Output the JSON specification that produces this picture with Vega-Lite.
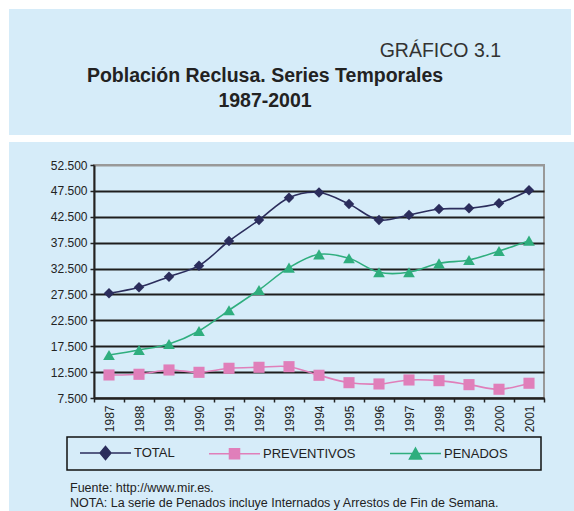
{
  "$schema": "https://vega.github.io/schema/vega-lite/v6.json",
  "background": "#d6ecf9",
  "padding": 0,
  "autosize": {"type": "pad"},
  "spacing": 0,
  "config": {
    "font": "Liberation Sans",
    "view": {"stroke": null},
    "legend": {"strokeWidth": 1.5},
    "axis": {"labelFont": "Liberation Sans", "labelColor": "#222222", "tickColor": "#222222", "domainColor": "#222222"}
  },
  "hconcat": [
    {
      "width": 9, "height": 511,
      "view": {"fill": "white"},
      "data": {"values": []},
      "mark": "point"
    },
    {
      "spacing": 16,
      "vconcat": [
        {
          "spacing": 0,
          "vconcat": [
            {"width": 565, "height": 9, "view": {"fill": "white"}, "data": {"values": []}, "mark": "point"},
            {
              "spacing": 0,
              "hconcat": [
                {
                  "width": 562,
                  "height": 126,
                  "view": {"fill": "#d6ecf9"},
                  "data": {"values": [{"label": "GRÁFICO 3.1", "titulo": "Población Reclusa. Series Temporales\n1987-2001"}]},
                  "layer": [
                    {
                      "mark": {"type": "text", "align": "right", "baseline": "alphabetic", "fontSize": 19.5, "color": "#333333", "dx": 211, "dy": -15},
                      "encoding": {"text": {"field": "label"}}
                    },
                    {
                      "mark": {"type": "text", "align": "center", "baseline": "alphabetic", "fontSize": 19.5, "fontWeight": "bold", "color": "#222222", "lineBreak": "\n", "lineHeight": 25, "dx": -25, "dy": 10},
                      "encoding": {"text": {"field": "titulo"}}
                    }
                  ]
                },
                {"width": 3, "height": 126, "view": {"fill": "white"}, "data": {"values": []}, "mark": "point"}
              ]
            },
            {"width": 565, "height": 7, "view": {"fill": "white"}, "data": {"values": []}, "mark": "point"}
          ]
        },
        {
          "spacing": 0,
          "hconcat": [
            {"width": 20, "height": 10, "view": {"fill": "#d6ecf9"}, "data": {"values": []}, "mark": "point"},
            {
              "width": 450,
              "height": 233,
              "view": {"stroke": "#999999", "strokeWidth": 2, "fill": "#d6ecf9"},
              "title": {
                "text": ["Fuente: http://www.mir.es.", "NOTA: La serie de Penados incluye Internados y Arrestos de Fin de Semana."],
                "orient": "bottom", "anchor": "start", "frame": "group", "dx": -24, "offset": 11,
                "fontSize": 12.5, "fontWeight": "normal", "color": "#222222", "lineHeight": 15, "font": "Liberation Sans"
              },
              "data": {"values": [
                {"year": "1987", "serie": "TOTAL", "valor": 27720},
                {"year": "1988", "serie": "TOTAL", "valor": 28880},
                {"year": "1989", "serie": "TOTAL", "valor": 30930},
                {"year": "1990", "serie": "TOTAL", "valor": 33060},
                {"year": "1991", "serie": "TOTAL", "valor": 37820},
                {"year": "1992", "serie": "TOTAL", "valor": 41880},
                {"year": "1993", "serie": "TOTAL", "valor": 46190},
                {"year": "1994", "serie": "TOTAL", "valor": 47180},
                {"year": "1995", "serie": "TOTAL", "valor": 44970},
                {"year": "1996", "serie": "TOTAL", "valor": 41880},
                {"year": "1997", "serie": "TOTAL", "valor": 42850},
                {"year": "1998", "serie": "TOTAL", "valor": 44000},
                {"year": "1999", "serie": "TOTAL", "valor": 44130},
                {"year": "2000", "serie": "TOTAL", "valor": 45100},
                {"year": "2001", "serie": "TOTAL", "valor": 47610},
                {"year": "1987", "serie": "PREVENTIVOS", "valor": 11950},
                {"year": "1988", "serie": "PREVENTIVOS", "valor": 12080},
                {"year": "1989", "serie": "PREVENTIVOS", "valor": 12910},
                {"year": "1990", "serie": "PREVENTIVOS", "valor": 12460},
                {"year": "1991", "serie": "PREVENTIVOS", "valor": 13240},
                {"year": "1992", "serie": "PREVENTIVOS", "valor": 13430},
                {"year": "1993", "serie": "PREVENTIVOS", "valor": 13550},
                {"year": "1994", "serie": "PREVENTIVOS", "valor": 11890},
                {"year": "1995", "serie": "PREVENTIVOS", "valor": 10460},
                {"year": "1996", "serie": "PREVENTIVOS", "valor": 10210},
                {"year": "1997", "serie": "PREVENTIVOS", "valor": 10980},
                {"year": "1998", "serie": "PREVENTIVOS", "valor": 10850},
                {"year": "1999", "serie": "PREVENTIVOS", "valor": 10080},
                {"year": "2000", "serie": "PREVENTIVOS", "valor": 9190},
                {"year": "2001", "serie": "PREVENTIVOS", "valor": 10350},
                {"year": "1987", "serie": "PENADOS", "valor": 15810},
                {"year": "1988", "serie": "PENADOS", "valor": 16780},
                {"year": "1989", "serie": "PENADOS", "valor": 17940},
                {"year": "1990", "serie": "PENADOS", "valor": 20450},
                {"year": "1991", "serie": "PENADOS", "valor": 24440},
                {"year": "1992", "serie": "PENADOS", "valor": 28360},
                {"year": "1993", "serie": "PENADOS", "valor": 32670},
                {"year": "1994", "serie": "PENADOS", "valor": 35250},
                {"year": "1995", "serie": "PENADOS", "valor": 34480},
                {"year": "1996", "serie": "PENADOS", "valor": 31780},
                {"year": "1997", "serie": "PENADOS", "valor": 31780},
                {"year": "1998", "serie": "PENADOS", "valor": 33510},
                {"year": "1999", "serie": "PENADOS", "valor": 34160},
                {"year": "2000", "serie": "PENADOS", "valor": 35890},
                {"year": "2001", "serie": "PENADOS", "valor": 37890}
              ]},
              "encoding": {
                "x": {
                  "field": "year", "type": "ordinal",
                  "scale": {"paddingInner": 0, "paddingOuter": 0},
                  "axis": {"title": null, "labelAngle": -90, "tickBand": "extent", "grid": false, "labelFontSize": 12, "labelPadding": 3, "tickSize": 4, "domainWidth": 2, "tickWidth": 1.5}
                },
                "y": {
                  "field": "valor", "type": "quantitative",
                  "scale": {"domain": [7500, 52500], "nice": false, "zero": false},
                  "axis": {
                    "title": null,
                    "values": [7500, 12500, 17500, 22500, 27500, 32500, 37500, 42500, 47500, 52500],
                    "labelExpr": "replace(format(datum.value, ','), ',', '.')",
                    "grid": true,
                    "gridColor": {"condition": {"test": "datum.value == 52500", "value": "#999999"}, "value": "#1e1e1e"},
                    "gridWidth": 2,
                    "minExtent": 64, "maxExtent": 200,
                    "tickSize": 4, "tickWidth": 1.5, "labelPadding": 3, "labelFontSize": 12, "domainWidth": 2
                  }
                }
              },
              "layer": [
                {
                  "mark": {"type": "line", "interpolate": "catmull-rom", "strokeWidth": 1.6},
                  "encoding": {
                    "color": {"field": "serie", "type": "nominal",
                      "scale": {"domain": ["TOTAL", "PREVENTIVOS", "PENADOS"], "range": ["#2b2d5c", "#e07fba", "#2fae7e"]},
                      "legend": null}
                  }
                },
                {
                  "mark": {"type": "point", "filled": true, "opacity": 1},
                  "encoding": {
                    "color": {"field": "serie", "type": "nominal",
                      "scale": {"domain": ["TOTAL", "PREVENTIVOS", "PENADOS"], "range": ["#2b2d5c", "#e07fba", "#2fae7e"]},
                      "legend": null},
                    "shape": {"field": "serie", "type": "nominal",
                      "scale": {"domain": ["TOTAL", "PREVENTIVOS", "PENADOS"], "range": ["diamond", "square", "triangle-up"]},
                      "legend": null},
                    "size": {"field": "serie", "type": "ordinal",
                      "scale": {"domain": ["TOTAL", "PREVENTIVOS", "PENADOS"], "range": [110, 137, 150]},
                      "legend": null}
                  }
                },
                {
                  "data": {"values": []},
                  "mark": {"type": "point", "filled": true, "opacity": 1},
                  "encoding": {
                    "fill": {"field": "serie", "type": "nominal",
                      "scale": {"domain": ["TOTAL", "PREVENTIVOS", "PENADOS"], "range": ["#2b2d5c", "#e07fba", "#2fae7e"]},
                      "legend": {"orient": "none", "legendX": -27, "legendY": 272, "direction": "horizontal", "columns": 3, "title": " ", "titleOrient": "right", "titlePadding": 26, "symbolSize": 225, "symbolStrokeWidth": 1.5, "symbolOffset": 23, "labelOffset": 20, "columnPadding": 28, "padding": 7, "fillColor": "#d6ecf9", "strokeColor": "#111111", "labelFontSize": 13, "labelColor": "#222222", "labelFont": "Liberation Sans", "symbolOpacity": 1, "labelLimit": 0}},
                    "stroke": {"field": "serie", "type": "nominal",
                      "scale": {"domain": ["TOTAL", "PREVENTIVOS", "PENADOS"], "range": ["#2b2d5c", "#e07fba", "#2fae7e"]},
                      "legend": {"orient": "none", "legendX": -27, "legendY": 272, "direction": "horizontal", "columns": 3, "title": " ", "titleOrient": "right", "titlePadding": 26, "symbolSize": 225, "symbolStrokeWidth": 1.5, "symbolOffset": 23, "labelOffset": 20, "columnPadding": 28, "padding": 7, "fillColor": "#d6ecf9", "strokeColor": "#111111", "labelFontSize": 13, "labelColor": "#222222", "labelFont": "Liberation Sans", "symbolOpacity": 1, "labelLimit": 0}},
                    "shape": {"field": "serie", "type": "nominal",
                      "scale": {"domain": ["TOTAL", "PREVENTIVOS", "PENADOS"], "range": ["M-3.4,0H3.4M0,-0.87L0.73,0L0,0.87L-0.73,0Z", "M-3.4,0H3.4M-0.67,-0.67H0.67V0.67H-0.67Z", "M-3.4,0H3.4M0,-0.73L0.8,0.73L-0.8,0.73Z"]},
                      "legend": {"orient": "none", "legendX": -27, "legendY": 272, "direction": "horizontal", "columns": 3, "title": " ", "titleOrient": "right", "titlePadding": 26, "symbolSize": 225, "symbolStrokeWidth": 1.5, "symbolOffset": 23, "labelOffset": 20, "columnPadding": 28, "padding": 7, "fillColor": "#d6ecf9", "strokeColor": "#111111", "labelFontSize": 13, "labelColor": "#222222", "labelFont": "Liberation Sans", "symbolOpacity": 1, "labelLimit": 0}}
                  }
                }
              ],
              "resolve": {"scale": {"shape": "independent", "fill": "independent", "stroke": "independent"}}
            }
          ]
        }
      ]
    }
  ]
}
